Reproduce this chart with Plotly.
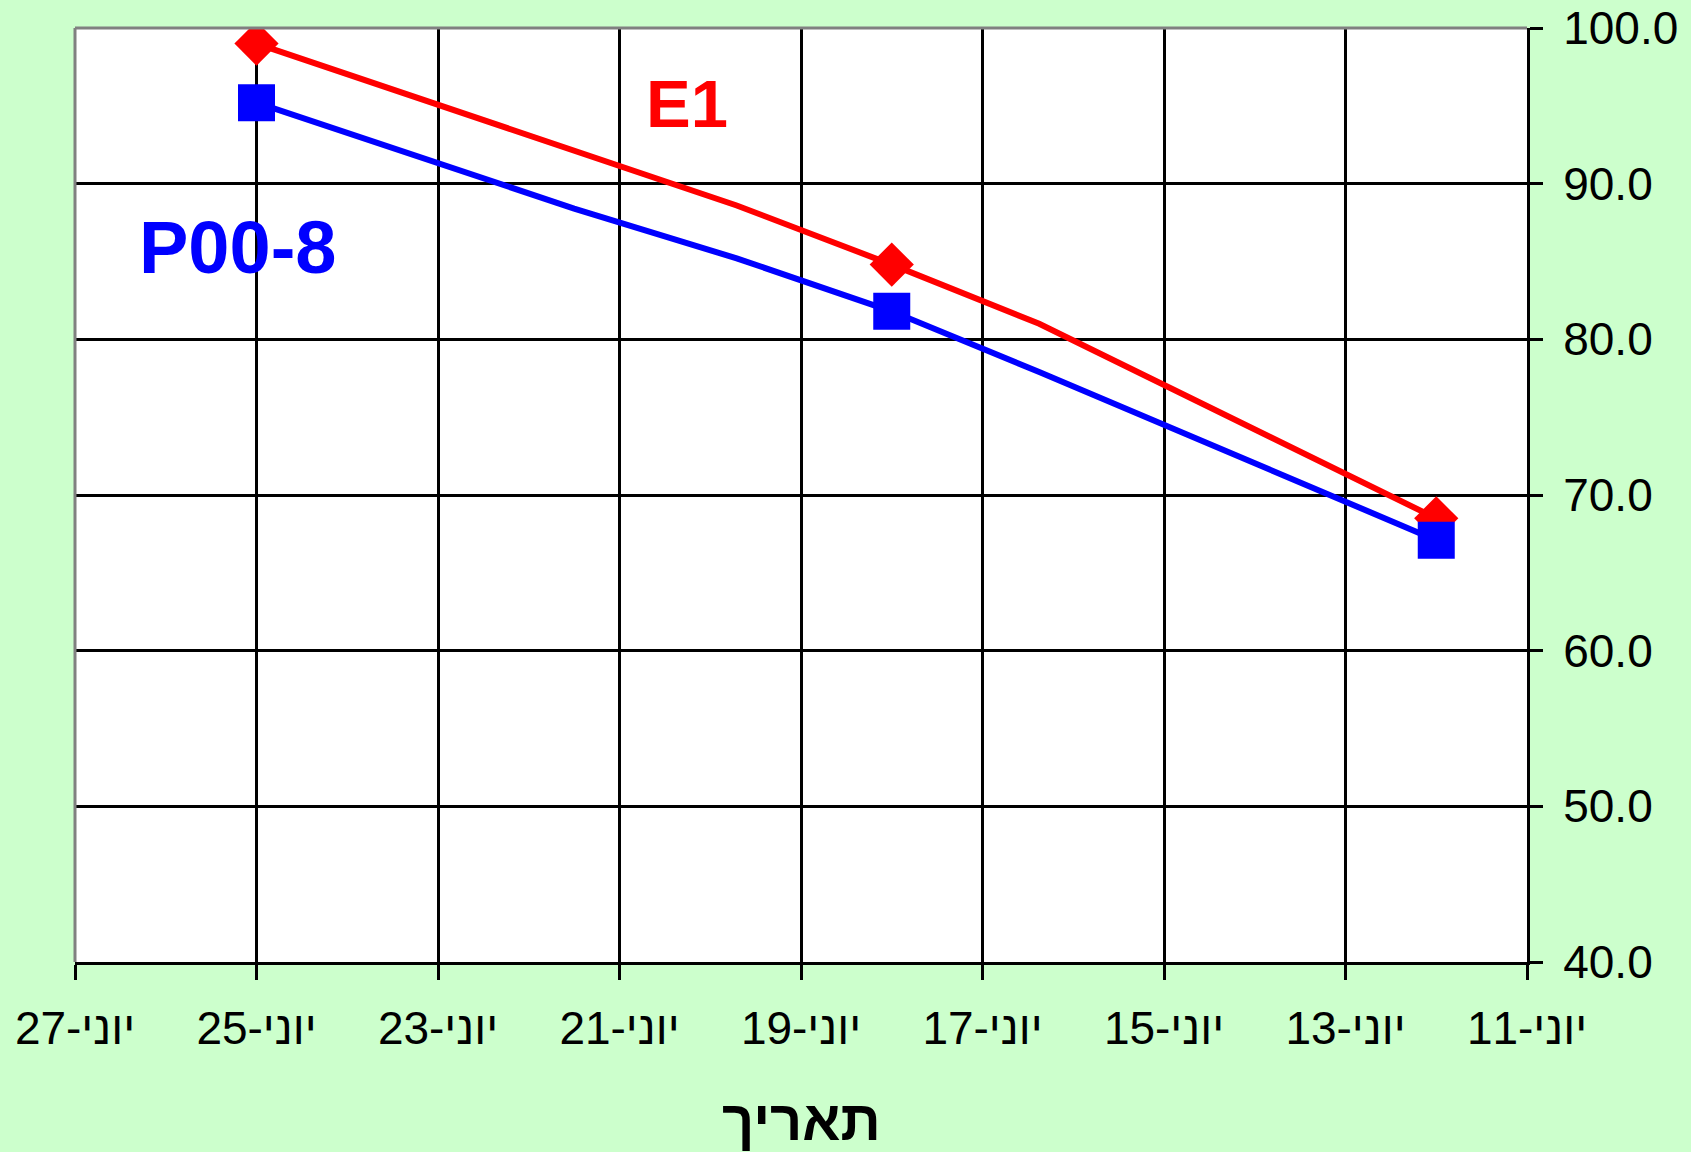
import plotly.graph_objects as go

# Data
line_dates = ['2008-06-25', '2008-06-21 12:00', '2008-06-19 17:00',
              '2008-06-18', '2008-06-16 09:00', '2008-06-12']
e1_line = [99.0, 92.1, 88.6, 84.8, 81.0, 68.5]
p008_line = [95.2, 88.4, 85.2, 81.8, 77.9, 67.1]

marker_dates = ['2008-06-25', '2008-06-18', '2008-06-12']
e1_points = [99.0, 84.8, 68.5]
p008_points = [95.2, 81.8, 67.1]

tick_dates = ['2008-06-27', '2008-06-25', '2008-06-23', '2008-06-21', '2008-06-19',
              '2008-06-17', '2008-06-15', '2008-06-13', '2008-06-11']
tick_labels = ['27-יוני', '25-יוני', '23-יוני', '21-יוני', '19-יוני',
               '17-יוני', '15-יוני', '13-יוני', '11-יוני']

FONT = 'Liberation Sans, Arial, sans-serif'

fig = go.Figure()

# Lines
fig.add_trace(go.Scatter(x=line_dates, y=e1_line, mode='lines',
                         line=dict(color='#FF0000', width=6), name='E1'))
fig.add_trace(go.Scatter(x=line_dates, y=p008_line, mode='lines',
                         line=dict(color='#0000FF', width=6), name='P00-8'))
# Measured points
fig.add_trace(go.Scatter(x=marker_dates, y=e1_points, mode='markers',
                         marker=dict(symbol='diamond', size=34, color='#FF0000'), name='E1'))
fig.add_trace(go.Scatter(x=marker_dates, y=p008_points, mode='markers',
                         marker=dict(symbol='square', size=37, color='#0000FF'), name='P00-8'))

fig.update_layout(width=1691, height=1152,
                  paper_bgcolor='#CCFFCC',
                  plot_bgcolor='white',
                  showlegend=False,
                  margin=dict(l=75, r=164, t=28, b=190),
                  font=dict(family=FONT, color='black'))

fig.update_xaxes(type='date',
                 range=['2008-06-27', '2008-06-11'],
                 tickvals=tick_dates, ticktext=tick_labels,
                 tickfont=dict(size=46), automargin=False,
                 showgrid=True, gridcolor='black', gridwidth=3,
                 showline=True, linecolor='black', linewidth=3,
                 ticks='outside', ticklen=15, tickwidth=3, tickcolor='black',
                 ticklabelstandoff=9, zeroline=False)

fig.update_yaxes(side='right', range=[40, 100], dtick=10, tickformat='.1f',
                 tickfont=dict(size=46), automargin=False,
                 showgrid=True, gridcolor='black', gridwidth=3,
                 showline=True, linecolor='black', linewidth=3,
                 ticks='outside', ticklen=13, tickwidth=3, tickcolor='black',
                 ticklabelstandoff=11, zeroline=False)

# Grey frame on top and left
fig.add_shape(type='line', xref='paper', yref='paper', x0=0, x1=1, y0=1, y1=1,
              line=dict(color='#808080', width=3), layer='above')
fig.add_shape(type='line', xref='paper', yref='paper', x0=0, x1=0, y0=0, y1=1,
              line=dict(color='#808080', width=3), layer='above')

# Series labels
fig.add_annotation(x=0.4215, y=0.9197, xref='paper', yref='paper', text='<b>E1</b>',
                   showarrow=False, xanchor='center', yanchor='middle',
                   font=dict(size=67, color='#FF0000', family=FONT))
fig.add_annotation(x=0.1121, y=0.7655, xref='paper', yref='paper', text='<b>P00-8</b>',
                   showarrow=False, xanchor='center', yanchor='middle',
                   font=dict(size=74, color='#0000FF', family=FONT))

# Axis title
fig.add_annotation(x=0.5, y=-0.17, xref='paper', yref='paper', text='<b>תאריך</b>',
                   showarrow=False, xanchor='center', yanchor='middle',
                   font=dict(size=56, color='black', family=FONT))

fig.write_html('out.html', config={'displayModeBar': False},
               post_script="document.body.style.margin='0';")
